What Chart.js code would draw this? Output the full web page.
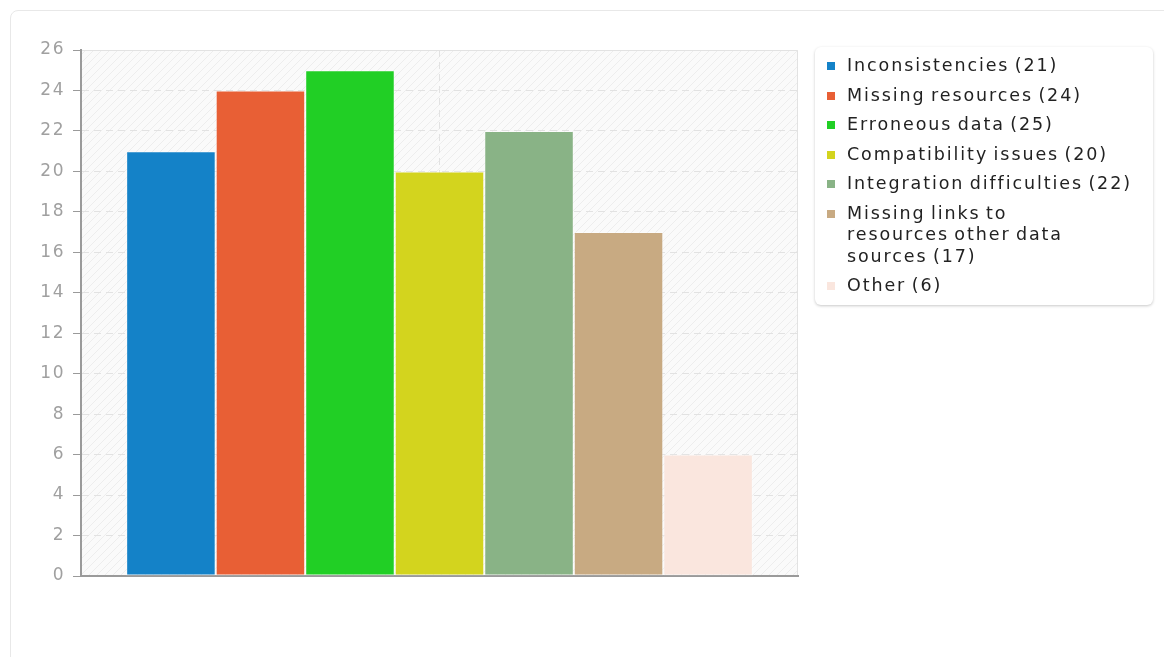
<!DOCTYPE html>
<html>
<head>
<meta charset="utf-8">
<script src="https://cdn.jsdelivr.net/npm/chart.js@4/dist/chart.umd.min.js"></script>
<style>
  html, body { margin: 0; padding: 0; background: #fff; }
  body { width: 1164px; height: 657px; position: relative; overflow: hidden;
         font-family: "DejaVu Sans", sans-serif; }
  #card { position: absolute; left: 10px; top: 10px; width: 1170px; height: 700px;
          border: 1px solid #e8e8e8; border-radius: 8px; box-sizing: border-box; }
  #wrap { position: absolute; left: 0; top: 0; width: 1164px; height: 657px; }
  #legend { position: absolute; left: 815px; top: 47px; width: 338px; height: 258px;
            box-sizing: border-box; background: #fff; border-radius: 6px;
            box-shadow: 0 1px 3px rgba(0,0,0,0.22); padding: 8px 0 0 12px; }
  #legend ul { list-style: none; margin: 0; padding: 0; }
  #legend li { position: relative; padding-left: 20px; margin: 0 0 8px 0;
               font-size: 17.5px; line-height: 21.5px; color: #222; letter-spacing: 1.9px;
               word-spacing: -2px; width: 300px; }
  #legend li.narrow { width: 235px; }
  #legend li span.sw { position: absolute; left: 0; top: 7px; width: 8px; height: 8px; }
</style>
</head>
<body>
<div id="card"></div>
<div id="wrap"><canvas id="chart" width="1164" height="657"></canvas></div>
<div id="legend"><ul id="legendList"></ul></div>
<script>
// ---- data ----
const categories = ["Inconsistencies", "Missing resources", "Erroneous data",
  "Compatibility issues", "Integration difficulties",
  "Missing links to resources other data sources", "Other"];
const counts = [21, 24, 25, 20, 22, 17, 6];
const colors = ["#1482c8", "#e85f35", "#21cf25", "#d3d41e", "#89b386", "#c8aa82", "#fae6de"];
const yTicks = [0, 2, 4, 6, 8, 10, 12, 14, 16, 18, 20, 22, 24, 26];

// hatched plot background + frame
function makeHatch() {
  const c = document.createElement("canvas");
  c.width = 8; c.height = 8;
  const g = c.getContext("2d");
  g.fillStyle = "#fafafa";
  g.fillRect(0, 0, 8, 8);
  g.strokeStyle = "#ededed";
  g.lineWidth = 1;
  g.beginPath();
  g.moveTo(-1, 9); g.lineTo(9, -1);
  g.moveTo(-1, 1); g.lineTo(1, -1);
  g.moveTo(7, 9); g.lineTo(9, 7);
  g.stroke();
  return c;
}

const plotBg = {
  id: "plotBg",
  beforeDraw(chart) {
    const { ctx, chartArea: a } = chart;
    ctx.save();
    ctx.fillStyle = ctx.createPattern(makeHatch(), "repeat");
    ctx.fillRect(a.left, a.top, a.right - a.left, a.bottom - a.top);
    ctx.strokeStyle = "#e2e2e2";
    ctx.lineWidth = 1;
    ctx.beginPath();
    ctx.moveTo(a.left, a.top + 0.5); ctx.lineTo(a.right - 0.5, a.top + 0.5);
    ctx.lineTo(a.right - 0.5, a.bottom);
    ctx.stroke();
    ctx.restore();
    // wider tracking for the tick labels
    ctx.letterSpacing = "1.5px";
  }
};

const datasets = categories.map((name, i) => ({
  label: `${name} (${counts[i]})`,
  data: [counts[i]],
  backgroundColor: colors[i],
  borderColor: "rgba(255,255,255,0.35)",
  borderWidth: 1,
  borderSkipped: false,
  categoryPercentage: 0.874,
  barPercentage: 1
}));

const chart = new Chart(document.getElementById("chart"), {
  type: "bar",
  data: { labels: [""], datasets },
  plugins: [plotBg],
  options: {
    responsive: false,
    animation: false,
    layout: { padding: { left: 0, top: 50, right: 366, bottom: 81 } },
    plugins: { legend: { display: false }, tooltip: { enabled: false } },
    scales: {
      x: {
        ticks: { display: false },
        grid: { offset: false, color: "#e2e2e2", drawTicks: false },
        border: { display: true, color: "#9a9a9a", width: 2, dash: [7, 5] },
        afterFit: (s) => { s.height = 0; }
      },
      y: {
        min: 0, max: 26,
        afterBuildTicks: (s) => { s.ticks = yTicks.map(v => ({ value: v })); },
        ticks: { color: "#a0a0a0", padding: 8,
                 font: { family: "DejaVu Sans", size: 17 } },
        grid: { color: "#e2e2e2", tickColor: "#9a9a9a",
                tickBorderDash: [], tickLength: 8 },
        border: { display: true, color: "#9a9a9a", width: 2, dash: [7, 5] },
        afterFit: (s) => { s.width = 81; }
      }
    }
  }
});

// HTML legend built from the chart's datasets; long labels wrap in a narrower box
const list = document.getElementById("legendList");
chart.data.datasets.forEach((ds) => {
  const li = document.createElement("li");
  if (ds.label.length > 40) li.className = "narrow";
  const sw = document.createElement("span");
  sw.className = "sw";
  sw.style.background = ds.backgroundColor;
  li.appendChild(sw);
  li.appendChild(document.createTextNode(ds.label));
  list.appendChild(li);
});
</script>
</body>
</html>
